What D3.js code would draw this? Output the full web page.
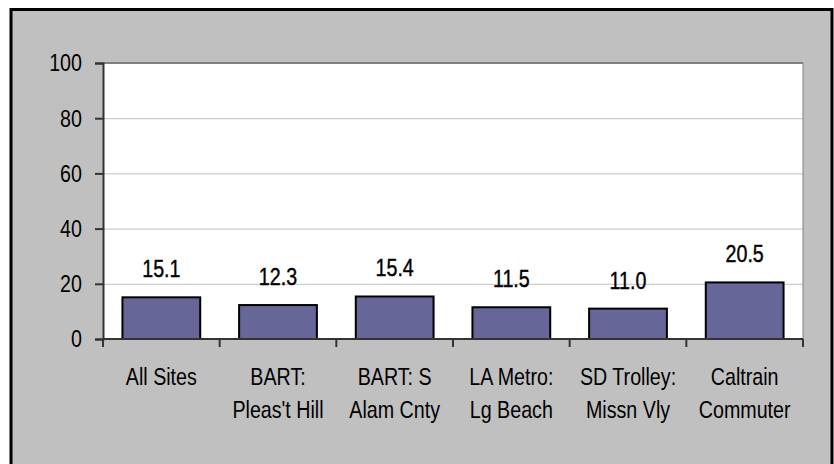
<!DOCTYPE html>
<html>
<head>
<meta charset="utf-8">
<script src="https://cdn.jsdelivr.net/npm/d3@7"></script>
<style>
  body { margin: 0; background: #fff; }
  svg { display: block; }
  text { font-family: "Liberation Sans Narrow", "Arial Narrow", "Liberation Sans", sans-serif; fill: #000; }
</style>
</head>
<body>
<div id="chart"></div>
<script>
// data
const categories = ['All Sites', "BART:\nPleas't Hill", 'BART: S\nAlam Cnty', 'LA Metro:\nLg Beach', 'SD Trolley:\nMissn Vly', 'Caltrain\nCommuter'];
const values = [15.1, 12.3, 15.4, 11.5, 11.0, 20.5];
const yTicks = [0, 20, 40, 60, 80, 100];

const W = 834, H = 464;
const m = { top: 63, right: 31, bottom: 125, left: 103 };
const iW = W - m.left - m.right, iH = H - m.top - m.bottom;
const NARROW = 'scale(0.82,1)'; // no narrow face installed, squeeze the regular one

const svg = d3.select('#chart').append('svg').attr('width', W).attr('height', H);

// outer chart frame
svg.append('rect').attr('x', 11).attr('y', 9.5).attr('width', 821).attr('height', 470)
  .attr('fill', '#c0c0c0').attr('stroke', '#000').attr('stroke-width', 3);

const g = svg.append('g').attr('transform', `translate(${m.left},${m.top})`);

const x = d3.scaleBand().domain(categories).range([0, iW]).paddingInner(1 / 3).paddingOuter(1 / 6);
const y = d3.scaleLinear().domain([0, 100]).range([iH, 0]);

// plot area
g.append('rect').attr('width', iW).attr('height', iH).attr('fill', '#fff');

// gridlines
g.append('g')
  .call(d3.axisLeft(y).tickValues(yTicks.slice(1, -1)).tickSize(-iW).tickFormat(''))
  .call(a => { a.select('.domain').remove(); a.selectAll('line').attr('stroke', '#c0c0c0').attr('stroke-width', 1); });

// plot border top / right
g.append('line').attr('x1', 0).attr('x2', iW).attr('y1', y(100)).attr('y2', y(100)).attr('stroke', '#808080').attr('stroke-width', 2);
g.append('line').attr('x1', iW).attr('x2', iW).attr('y1', 0).attr('y2', iH).attr('stroke', '#808080').attr('stroke-width', 1);

// bars
g.selectAll('.bar').data(values).enter().append('rect')
  .attr('x', (d, i) => x(categories[i]))
  .attr('y', d => y(d))
  .attr('width', x.bandwidth())
  .attr('height', d => iH - y(d))
  .attr('fill', '#666699')
  .attr('stroke', '#000').attr('stroke-width', 2);

// value labels
g.selectAll('.lbl').data(values).enter().append('text')
  .attr('transform', (d, i) => `translate(${x(categories[i]) + x.bandwidth() / 2},${y(d) - 20}) ${NARROW}`)
  .attr('text-anchor', 'middle')
  .attr('font-size', 24)
  .attr('stroke', '#000').attr('stroke-width', 0.4)
  .text(d => d.toFixed(1));

// y axis
g.append('g')
  .call(d3.axisLeft(y).tickValues(yTicks).tickSize(8).tickFormat(''))
  .call(a => {
    a.select('.domain').attr('stroke', '#333').attr('stroke-width', 2);
    a.selectAll('line').attr('stroke', '#333').attr('stroke-width', 2);
  });
g.selectAll('.ytl').data(yTicks).enter().append('text')
  .attr('transform', d => `translate(-21,${y(d)}) ${NARROW}`)
  .attr('text-anchor', 'end').attr('dy', '0.35em')
  .attr('font-size', 24)
  .text(d => d);

// x axis: ticks at category boundaries
const step = x.step();
const bounds = categories.map(c => x(c) - step * x.paddingInner() / 2).concat([iW]);
const xa = g.append('g').attr('transform', `translate(0,${iH})`);
xa.append('line').attr('x1', 0).attr('x2', iW).attr('stroke', '#333').attr('stroke-width', 2);
xa.selectAll('.tk').data(bounds).enter().append('line')
  .attr('x1', d => d).attr('x2', d => d).attr('y1', 0).attr('y2', 8)
  .attr('stroke', '#333').attr('stroke-width', 2);

xa.selectAll('.cat').data(categories).enter().append('text')
  .attr('text-anchor', 'middle')
  .attr('font-size', 24)
  .attr('transform', c => `translate(${x(c) + x.bandwidth() / 2},46) ${NARROW}`)
  .each(function(c) {
    c.split('\n').forEach((line, i) => {
      d3.select(this).append('tspan').attr('x', 0).attr('y', i * 33).text(line);
    });
  });
</script>
</body>
</html>
